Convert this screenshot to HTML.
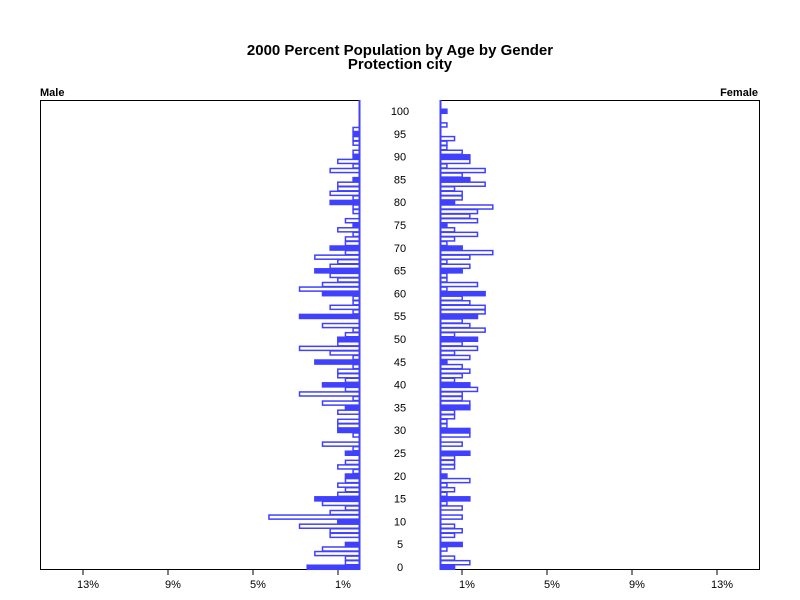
<!DOCTYPE html>
<html><head><meta charset="utf-8"><style>body{margin:0;background:#fff}svg{display:block}</style></head>
<body>
<svg id="s" width="800" height="600" xmlns="http://www.w3.org/2000/svg" font-family="Liberation Sans, Arial, sans-serif">
<rect width="800" height="600" fill="#fff"/>
<text x="400" y="55" text-anchor="middle" font-size="15" font-weight="bold" fill="#000">2000 Percent Population by Age by Gender</text>
<text x="400" y="69" text-anchor="middle" font-size="15" font-weight="bold" fill="#000">Protection city</text>
<text x="40" y="96" font-size="11" font-weight="bold">Male</text>
<text x="758" y="96" font-size="11" font-weight="bold" text-anchor="end">Female</text>
<rect x="40.5" y="100.5" width="319" height="469" fill="none" stroke="#000" stroke-width="1"/>
<rect x="440.5" y="100.5" width="319" height="469" fill="none" stroke="#000" stroke-width="1"/>
<g id="bars"></g>
<line x1="359.5" y1="100" x2="359.5" y2="570" stroke="#4040ff" stroke-width="2"/>
<line x1="440.5" y1="100" x2="440.5" y2="570" stroke="#4040ff" stroke-width="2"/>
<g stroke="#000" stroke-width="1">
<line x1="83" y1="570" x2="83" y2="575"/><line x1="168" y1="570" x2="168" y2="575"/><line x1="253" y1="570" x2="253" y2="575"/><line x1="338" y1="570" x2="338" y2="575"/>
<line x1="462" y1="570" x2="462" y2="575"/><line x1="547" y1="570" x2="547" y2="575"/><line x1="632" y1="570" x2="632" y2="575"/><line x1="717" y1="570" x2="717" y2="575"/>
</g>
<g font-size="11" text-anchor="middle">
<text x="88" y="588">13%</text><text x="173" y="588">9%</text><text x="258" y="588">5%</text><text x="343" y="588">1%</text>
<text x="467" y="588">1%</text><text x="552" y="588">5%</text><text x="637" y="588">9%</text><text x="722" y="588">13%</text>
</g>
<g id="ages" font-size="11" text-anchor="middle"></g>
</svg>
<script>
var L={100:0,99:0,98:0,97:0,96:1,95:1,94:1,93:1,92:0,91:1,90:1,89:3,88:1,87:4,86:0,85:1,84:3,83:3,82:4,81:1,80:4,79:1,78:1,77:0,76:2,75:1,74:3,73:1,72:2,71:2,70:4,69:2,68:6,67:3,66:4,65:6,64:4,63:3,62:5,61:8,60:5,59:1,58:1,57:4,56:1,55:8,54:0,53:5,52:1,51:2,50:3,
49:3,48:8,47:4,46:1,45:6,44:1,43:3,42:3,41:2,40:5,39:2,38:8,37:1,36:5,35:2,34:3,33:0,32:3,31:3,30:3,29:1,28:0,27:5,26:1,25:2,24:0,23:2,22:3,21:1,20:2,19:2,18:3,17:2,16:3,15:6,14:5,13:2,12:4,11:12,10:3,9:8,8:4,7:4,6:0,5:2,4:5,3:6,2:2,1:2,0:7};
var R={100:1,99:0,98:0,97:1,96:0,95:0,94:2,93:1,92:1,91:3,90:4,89:4,88:1,87:6,86:3,85:4,84:6,83:2,82:3,81:3,80:2,79:7,78:5,77:4,76:5,75:1,74:2,73:5,72:2,71:1,70:3,69:7,68:4,67:1,66:4,65:3,64:1,63:1,62:5,61:1,60:6,59:3,58:4,57:6,56:6,55:5,54:3,53:4,52:6,51:2,50:5,
49:3,48:5,47:2,46:4,45:1,44:3,43:4,42:3,41:2,40:4,39:5,38:3,37:3,36:4,35:4,34:2,33:2,32:1,31:1,30:4,29:4,28:0,27:3,26:0,25:4,24:2,23:2,22:2,21:0,20:1,19:4,18:1,17:2,16:1,15:4,14:1,13:3,12:0,11:3,10:0,9:2,8:3,7:2,6:0,5:3,4:1,3:0,2:2,1:4,0:2};
var u=7.65,h=4.56,out="";
for(var a=0;a<=100;a++){
 var yc=567-a*h, y=yc-h/2, f=(a%5==0);
 var fill=f?"#4040ff":"#fff";
 if(L[a]>0){var w=L[a]*u;out+='<rect x="'+(360-w+0.75)+'" y="'+(y+0.5)+'" width="'+(w-1.5)+'" height="'+(h-0.5)+'" fill="'+fill+'" stroke="#4040ff" stroke-width="1.5"/>';}
 if(R[a]>0){var w2=R[a]*u;out+='<rect x="'+(440.75)+'" y="'+(y+0.5)+'" width="'+(w2-1.5)+'" height="'+(h-0.5)+'" fill="'+fill+'" stroke="#4040ff" stroke-width="1.5"/>';}
}
document.getElementById("bars").innerHTML=out;
var t="";
for(var a=0;a<=100;a+=5){t+='<text x="400" y="'+(567-a*h+4)+'">'+a+'</text>';}
document.getElementById("ages").innerHTML=t;
</script>
</body></html>
